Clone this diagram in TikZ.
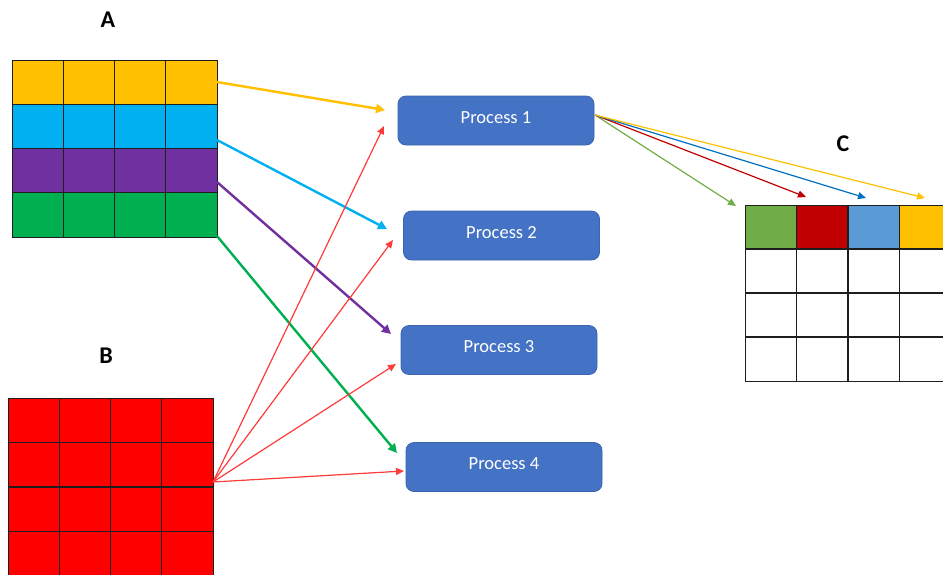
\documentclass[tikz,border=0pt]{standalone}
\usepackage{fontspec}
\setmainfont{Carlito}
\usetikzlibrary{arrows.meta}
\definecolor{cyel}{RGB}{255,192,0}
\definecolor{ccyan}{RGB}{0,176,240}
\definecolor{cpur}{RGB}{112,48,160}
\definecolor{cgrn}{RGB}{0,176,80}
\definecolor{cred}{RGB}{255,0,0}
\definecolor{lred}{RGB}{255,60,60}
\definecolor{pblue}{RGB}{68,114,196}
\definecolor{pedge}{RGB}{60,100,175}
\definecolor{cgreen2}{RGB}{112,173,71}
\definecolor{cdred}{RGB}{192,0,0}
\definecolor{clblue}{RGB}{91,155,213}
\definecolor{cblue}{RGB}{0,112,192}
\definecolor{gridc}{RGB}{30,30,30}
\tikzset{
  proc/.style={draw=pedge, line width=0.8pt, fill=pblue, rounded corners=8pt, text=white,
    minimum width=196pt, minimum height=49pt, inner sep=0pt, text height=12pt, text depth=7pt,
    font=\fontsize{18.5}{22}\selectfont},
  lab/.style={font=\bfseries\fontsize{24}{28}\selectfont, inner sep=0pt},
  gridline/.style={draw=gridc, line width=1.1pt},
  thickarrow/.style={line width=2.4pt, -{Triangle[length=9pt,width=9pt]}},
  thinarrow/.style={line width=1.2pt, -{Triangle[length=8pt,width=7pt]}},
  mat/.style={anchor=north west, inner sep=0pt, draw=gridc, line width=1.1pt}
}
\begin{document}
\begin{tikzpicture}[x=1pt,y=-1pt]
\useasboundingbox (0,0) rectangle (943,574);
\clip (0,0) rectangle (943,574);

% Labels
\node[lab] (la) at (108,20) {A};
\node[lab] (lb) at (106,356) {B};
\node[lab] (lc) at (843,144) {C};

% Matrix A
\foreach \c [count=\i from 0] in {cyel,ccyan,cpur,cgrn}
  \fill[\c] (12,{60+\i*44.25}) rectangle (217,{104.25+\i*44.25});
\foreach \i in {1,2,3} {
  \draw[gridline] ({12+\i*51.25},60) -- ({12+\i*51.25},237);
  \draw[gridline] (12,{60+\i*44.25}) -- (217,{60+\i*44.25});
}
\node[mat, minimum width=205pt, minimum height=177pt] (A) at (12,60) {};

% Matrix B
\fill[cred] (8,398) rectangle (213,576);
\foreach \i in {1,2,3} {
  \draw[gridline] ({8+\i*51.25},398) -- ({8+\i*51.25},576);
  \draw[gridline] (8,{398+\i*44.5}) -- (213,{398+\i*44.5});
}
\node[mat, minimum width=205pt, minimum height=178pt] (B) at (8,398) {};

% Matrix C
\fill[cgreen2] (745,205) rectangle (796.5,250);
\fill[cdred] (796.5,205) rectangle (848,250);
\fill[clblue] (848,205) rectangle (899.5,250);
\fill[cyel] (899.5,205) rectangle (951,250);
\foreach \i in {1,2,3} {
  \draw[gridline] ({745+\i*51.5},205) -- ({745+\i*51.5},381);
  \draw[gridline] (745,{205+\i*44}) -- (951,{205+\i*44});
}
\node[mat, minimum width=206pt, minimum height=176pt] (C) at (745,205) {};

% Processes
\node[proc] (p1) at (496,120.5) {Process 1};
\node[proc] (p2) at (501.5,235.5) {Process 2};
\node[proc] (p3) at (499,350) {Process 3};
\node[proc] (p4) at (504,467) {Process 4};

% coordinates
\coordinate (ay) at (217,82);
\coordinate (ac) at (217,140);
\coordinate (ap) at (217,182);
\coordinate (ag) at (217,236);
\coordinate (bo) at (213,482);
\coordinate (po) at (595,115);

\coordinate (ty) at (385,110);
\coordinate (tc) at (387,229);
\coordinate (tp) at (391,334);
\coordinate (tg) at (397,453);

\coordinate (r1) at (384,126);
\coordinate (r2) at (393,240);
\coordinate (r3) at (396,364);
\coordinate (r4) at (404,471);

\coordinate (cg) at (736,206);
\coordinate (cr) at (806,197);
\coordinate (cb) at (866,198);
\coordinate (cy) at (925,198);

% arrows from A
\draw[thickarrow, draw=cyel, fill=cyel] (ay) -- (ty);
\draw[thickarrow, draw=ccyan, fill=ccyan] (ac) -- (tc);
\draw[thickarrow, draw=cpur, fill=cpur] (ap) -- (tp);
\draw[thickarrow, draw=cgrn, fill=cgrn] (ag) -- (tg);

% arrows from B
\foreach \t in {r1,r2,r3,r4}
  \draw[thinarrow, draw=lred, fill=cred] (bo) -- (\t);

% arrows from Process 1 to C
\draw[thinarrow, draw=cgreen2] (po) -- (cg);
\draw[thinarrow, draw=cdred] (po) -- (cr);
\draw[thinarrow, draw=cblue] (po) -- (cb);
\draw[thinarrow, draw=cyel] (po) -- (cy);
\end{tikzpicture}
\end{document}
